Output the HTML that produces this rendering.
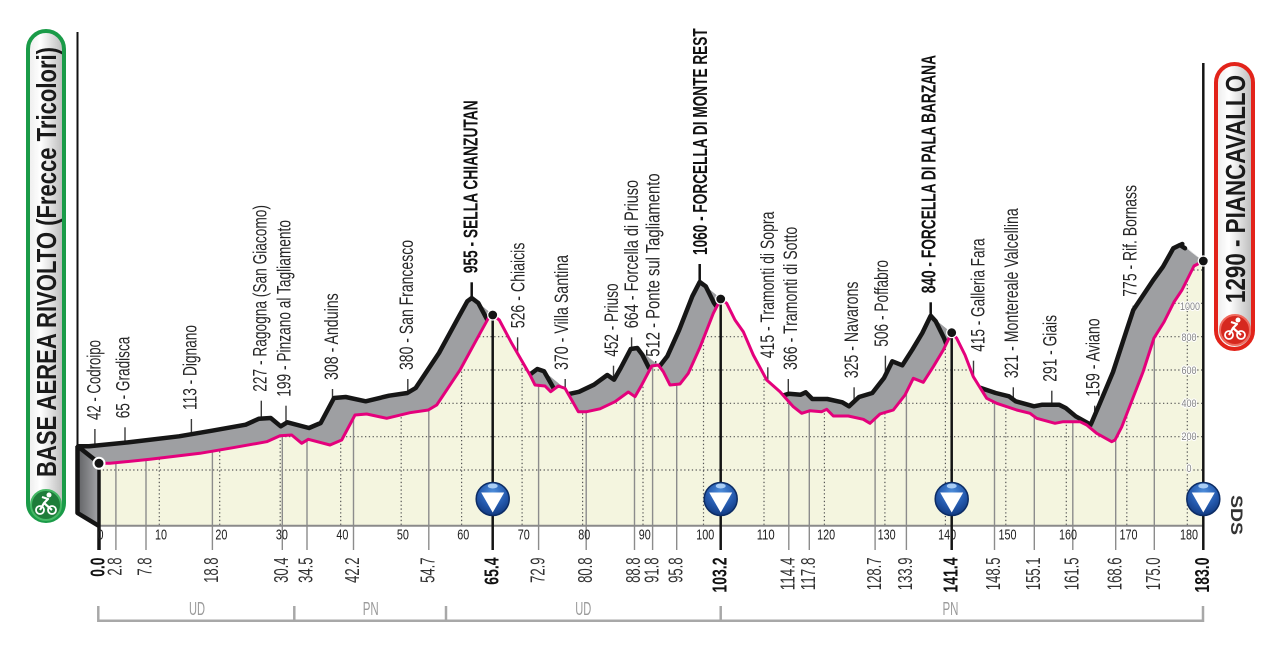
<!DOCTYPE html>
<html>
<head>
<meta charset="utf-8">
<style>
html,body{margin:0;padding:0;background:#fff;}
svg{display:block;}
text{font-family:"Liberation Sans Narrow","Liberation Sans",sans-serif;}
</style>
</head>
<body>
<svg width="1280" height="652" viewBox="0 0 1280 652" xmlns="http://www.w3.org/2000/svg">
<defs>
<path id="prof" d="M99,463.3 L110,463.3 L150,459.3 L200,453.3 L233,447.7 L266.7,441.7 L280,435.7 L291.7,435 L301.7,443.3 L308.3,439.3 L330,445 L341.7,440 L355,415 L366.7,414 L386.7,418.3 L410,412.7 L428.3,410 L436.7,405 L460,370 L480,333.3 L488.3,318.3 L492.7,315 L499.3,320 L511.7,343.3 L530,375 L535,385 L545,386 L550.7,391.7 L558.3,386 L565,388.3 L571.7,400 L578.3,411.7 L586.7,411.7 L600,408.8 L615,401.7 L628.3,392 L635,396.7 L641.7,385 L651.7,366 L658.3,365 L663.3,371.7 L670,385 L680,384 L688.3,373.3 L700,347.3 L713.3,313.3 L720.7,299 L726.7,303.3 L735,320 L743.3,331.7 L753.3,355 L766.7,380 L780,391.7 L793.3,406.7 L801.7,413.3 L810,410.7 L821.7,411.7 L826.7,409.3 L833.3,416 L848.3,416 L863.3,419.3 L870,423.3 L880,414 L893.3,410 L905,395 L913.3,378.3 L923.3,382.3 L933.3,366.7 L943.3,350 L951.7,332.7 L956.7,338.3 L965,355 L973.3,376.7 L986.7,398.3 L996.7,403.3 L1016.7,410 L1030,413.3 L1036.7,418.3 L1055,423.3 L1063.3,421.7 L1080,421.7 L1086.7,425 L1096.7,433.3 L1111.7,441.7 L1115,440 L1121.7,427 L1133.3,397 L1143,372 L1154,338 L1164,322 L1174,302 L1182,290 L1194,266 L1203.3,261"/>
<path id="area" d="M99,463.3 L110,463.3 L150,459.3 L200,453.3 L233,447.7 L266.7,441.7 L280,435.7 L291.7,435 L301.7,443.3 L308.3,439.3 L330,445 L341.7,440 L355,415 L366.7,414 L386.7,418.3 L410,412.7 L428.3,410 L436.7,405 L460,370 L480,333.3 L488.3,318.3 L492.7,315 L499.3,320 L511.7,343.3 L530,375 L535,385 L545,386 L550.7,391.7 L558.3,386 L565,388.3 L571.7,400 L578.3,411.7 L586.7,411.7 L600,408.8 L615,401.7 L628.3,392 L635,396.7 L641.7,385 L651.7,366 L658.3,365 L663.3,371.7 L670,385 L680,384 L688.3,373.3 L700,347.3 L713.3,313.3 L720.7,299 L726.7,303.3 L735,320 L743.3,331.7 L753.3,355 L766.7,380 L780,391.7 L793.3,406.7 L801.7,413.3 L810,410.7 L821.7,411.7 L826.7,409.3 L833.3,416 L848.3,416 L863.3,419.3 L870,423.3 L880,414 L893.3,410 L905,395 L913.3,378.3 L923.3,382.3 L933.3,366.7 L943.3,350 L951.7,332.7 L956.7,338.3 L965,355 L973.3,376.7 L986.7,398.3 L996.7,403.3 L1016.7,410 L1030,413.3 L1036.7,418.3 L1055,423.3 L1063.3,421.7 L1080,421.7 L1086.7,425 L1096.7,433.3 L1111.7,441.7 L1115,440 L1121.7,427 L1133.3,397 L1143,372 L1154,338 L1164,322 L1174,302 L1182,290 L1194,266 L1203.3,261 L1203.3,525.7 L99,525.7 Z"/>
<clipPath id="ca"><use href="#area"/></clipPath>
<linearGradient id="lf" x1="0" y1="0" x2="1" y2="0">
<stop offset="0" stop-color="#5f6063"/><stop offset="1" stop-color="#a5a6a9"/>
</linearGradient>
<linearGradient id="box" x1="0" y1="0" x2="1" y2="0">
<stop offset="0" stop-color="#ececec"/><stop offset="0.35" stop-color="#ffffff"/><stop offset="1" stop-color="#b9b9b9"/>
</linearGradient>
<radialGradient id="blue" cx="0.5" cy="0.3" r="0.7">
<stop offset="0" stop-color="#4f8fdc"/><stop offset="0.6" stop-color="#2459ad"/><stop offset="1" stop-color="#123a80"/>
</radialGradient>
</defs>

<rect x="0" y="0" width="1280" height="652" fill="#fff"/>

<!-- label ticks (back) -->
<g stroke="#3a3a3a" stroke-width="1.4">
<line x1="94.9" y1="429" x2="94.9" y2="446.3"/>
<line x1="125" y1="427.3" x2="125" y2="442.7"/>
<line x1="191.4" y1="419" x2="191.4" y2="434.2"/>
<line x1="261.3" y1="400.7" x2="261.3" y2="418.6"/>
<line x1="286" y1="405.7" x2="286" y2="423.1"/>
<line x1="332.5" y1="389" x2="332.5" y2="400.8"/>
<line x1="407.8" y1="379" x2="407.8" y2="392.8"/>
<line x1="517.6" y1="337.3" x2="517.6" y2="368.4"/>
<line x1="565.2" y1="379" x2="565.2" y2="394.7"/>
<line x1="613.5" y1="365.7" x2="613.5" y2="379.3"/>
<line x1="631.6" y1="337.3" x2="631.6" y2="348.9"/>
<line x1="655.7" y1="361" x2="655.7" y2="367.3"/>
<line x1="767.8" y1="367.3" x2="767.8" y2="384.6"/>
<line x1="788.3" y1="379" x2="788.3" y2="393.7"/>
<line x1="854.1" y1="387.3" x2="854.1" y2="401.6"/>
<line x1="885.4" y1="355.7" x2="885.4" y2="375.2"/>
<line x1="973.5" y1="360.7" x2="973.5" y2="385.2"/>
<line x1="1013.3" y1="387.3" x2="1013.3" y2="399.3"/>
<line x1="1051.8" y1="390.7" x2="1051.8" y2="404.7"/>
<line x1="1094.7" y1="405.7" x2="1094.7" y2="423"/>
<line x1="1133.3" y1="305.7" x2="1133.3" y2="312"/>
</g>
<g stroke="#111" stroke-width="2.5">
<line x1="471.7" y1="282.3" x2="471.7" y2="298"/>
<line x1="699.7" y1="264" x2="699.7" y2="282"/>
<line x1="930.7" y1="302.3" x2="930.7" y2="315.7"/>
</g>

<!-- grey top surface sweep -->
<g fill="#9e9fa2">
<use href="#area" transform="translate(-1,-0.81)"/>
<use href="#area" transform="translate(-2,-1.62)"/>
<use href="#area" transform="translate(-3,-2.43)"/>
<use href="#area" transform="translate(-4,-3.24)"/>
<use href="#area" transform="translate(-5,-4.05)"/>
<use href="#area" transform="translate(-6,-4.86)"/>
<use href="#area" transform="translate(-7,-5.67)"/>
<use href="#area" transform="translate(-8,-6.48)"/>
<use href="#area" transform="translate(-9,-7.29)"/>
<use href="#area" transform="translate(-10,-8.1)"/>
<use href="#area" transform="translate(-11,-8.9)"/>
<use href="#area" transform="translate(-12,-9.71)"/>
<use href="#area" transform="translate(-13,-10.52)"/>
<use href="#area" transform="translate(-14,-11.33)"/>
<use href="#area" transform="translate(-15,-12.14)"/>
<use href="#area" transform="translate(-16,-12.95)"/>
<use href="#area" transform="translate(-17,-13.76)"/>
<use href="#area" transform="translate(-18,-14.57)"/>
<use href="#area" transform="translate(-19,-15.38)"/>
<use href="#area" transform="translate(-20,-16.19)"/>
<use href="#area" transform="translate(-21,-17)"/>
</g>

<!-- left side face -->
<polygon points="77,446.5 99,463.3 99,525.7 77,513" fill="url(#lf)"/>
<path d="M78,446.5 L97,461.5 M77.5,446 L77.5,513 L99,526" fill="none" stroke="#141414" stroke-width="4.5" stroke-linejoin="round"/>
<line x1="77.5" y1="32" x2="77.5" y2="447" stroke="#111" stroke-width="2"/>

<!-- back black line -->
<use href="#prof" transform="translate(-21,-17)" fill="none" stroke="#161616" stroke-width="4.5" stroke-linejoin="round" stroke-linecap="round"/>

<!-- final climb override (wider band) -->
<path d="M1091,424 L1100,403 L1113,372 L1126.7,330 L1133.3,310 L1153.3,280 L1163,266.7 L1173.3,248.3 L1180,245 L1185,248.3 L1203.3,261 L1194,266 L1182,290 L1174,302 L1164,322 L1154,338 L1143,372 L1133.3,397 L1121.7,427 L1115,440 L1111.7,441.7 L1100,437 Z" fill="#9e9fa2"/>
<path d="M1091,424 L1100,403 L1113,372 L1126.7,330 L1133.3,310 L1153.3,280 L1163,266.7 L1173.3,248.3 L1180,245 L1185,248.3" fill="none" stroke="#161616" stroke-width="4.5" stroke-linejoin="round" stroke-linecap="round"/>

<!-- front face -->
<use href="#area" fill="#f4f5df"/>

<!-- dotted grid -->
<g clip-path="url(#ca)" stroke="#555" stroke-width="1.2" stroke-dasharray="1.3 2.5" fill="none">
<line x1="99" y1="470" x2="1203" y2="470"/>
<line x1="99" y1="436.7" x2="1203" y2="436.7"/>
<line x1="99" y1="403.3" x2="1203" y2="403.3"/>
<line x1="99" y1="370" x2="1203" y2="370"/>
<line x1="99" y1="336.7" x2="1203" y2="336.7"/>
<line x1="99" y1="303.3" x2="1203" y2="303.3"/>
<line x1="99" y1="270" x2="1203" y2="270"/>
<line x1="159.3" y1="250" x2="159.3" y2="526"/>
<line x1="219.7" y1="250" x2="219.7" y2="526"/>
<line x1="280.2" y1="250" x2="280.2" y2="526"/>
<line x1="340.7" y1="250" x2="340.7" y2="526"/>
<line x1="401.2" y1="250" x2="401.2" y2="526"/>
<line x1="461.6" y1="250" x2="461.6" y2="526"/>
<line x1="522.1" y1="250" x2="522.1" y2="526"/>
<line x1="582.6" y1="250" x2="582.6" y2="526"/>
<line x1="643" y1="250" x2="643" y2="526"/>
<line x1="703.5" y1="250" x2="703.5" y2="526"/>
<line x1="764" y1="250" x2="764" y2="526"/>
<line x1="824.4" y1="250" x2="824.4" y2="526"/>
<line x1="884.9" y1="250" x2="884.9" y2="526"/>
<line x1="945.4" y1="250" x2="945.4" y2="526"/>
<line x1="1005.8" y1="250" x2="1005.8" y2="526"/>
<line x1="1066.3" y1="250" x2="1066.3" y2="526"/>
<line x1="1126.8" y1="250" x2="1126.8" y2="526"/>
<line x1="1187.3" y1="250" x2="1187.3" y2="526"/>
</g>

<!-- waypoint front lines -->
<g stroke="#8c8c8c" stroke-width="1.4">
<line x1="115.9" y1="463.3" x2="115.9" y2="550"/>
<line x1="146" y1="459.7" x2="146" y2="550"/>
<line x1="212.4" y1="451.2" x2="212.4" y2="550"/>
<line x1="282.3" y1="435.6" x2="282.3" y2="550"/>
<line x1="307" y1="440.1" x2="307" y2="550"/>
<line x1="353.5" y1="417.8" x2="353.5" y2="550"/>
<line x1="428.8" y1="409.8" x2="428.8" y2="550"/>
<line x1="538.6" y1="385.4" x2="538.6" y2="550"/>
<line x1="586.2" y1="411.7" x2="586.2" y2="550"/>
<line x1="634.5" y1="396.3" x2="634.5" y2="550"/>
<line x1="652.6" y1="365.9" x2="652.6" y2="550"/>
<line x1="676.7" y1="384.3" x2="676.7" y2="550"/>
<line x1="788.8" y1="401.6" x2="788.8" y2="550"/>
<line x1="809.3" y1="410.7" x2="809.3" y2="550"/>
<line x1="875.1" y1="418.6" x2="875.1" y2="550"/>
<line x1="906.4" y1="392.2" x2="906.4" y2="550"/>
<line x1="994.5" y1="402.2" x2="994.5" y2="550"/>
<line x1="1034.3" y1="416.3" x2="1034.3" y2="550"/>
<line x1="1072.8" y1="421.7" x2="1072.8" y2="550"/>
<line x1="1115.7" y1="440" x2="1115.7" y2="550"/>
<line x1="1154.3" y1="338" x2="1154.3" y2="550"/>
</g>

<!-- axis baseline -->
<line x1="99" y1="525.7" x2="1203" y2="525.7" stroke="#8a8a8a" stroke-width="2"/>

<!-- pink front line -->
<use href="#prof" fill="none" stroke="#e4007c" stroke-width="3" stroke-linejoin="round"/>

<!-- summit / start / finish lines -->
<g stroke="#141414">
<line x1="492.7" y1="315" x2="492.7" y2="550" stroke-width="2.5"/>
<line x1="720.7" y1="299" x2="720.7" y2="550" stroke-width="2.5"/>
<line x1="951.7" y1="332.7" x2="951.7" y2="550" stroke-width="2.5"/>
<line x1="99" y1="463" x2="99" y2="550" stroke-width="3.5"/>
<line x1="1203.3" y1="63" x2="1203.3" y2="550" stroke-width="2.5"/>
</g>
<g fill="#141414" stroke="#fff" stroke-width="1.2">
<circle cx="492.7" cy="315" r="5"/>
<circle cx="720.7" cy="299" r="5"/>
<circle cx="951.7" cy="332.7" r="5"/>
<circle cx="1203.3" cy="261" r="5"/>
<circle cx="99" cy="463.3" r="5.5" stroke-width="2"/>
</g>

<!-- blue markers -->
<g>
<circle cx="492.7" cy="499" r="16.5" fill="url(#blue)" stroke="#0c2c64" stroke-width="1.5"/>
<polygon points="481.2,492.5 504.2,492.5 492.7,512.5" fill="#fff"/>
<ellipse cx="492.7" cy="486" rx="5" ry="2.5" fill="#a9cdf5"/>
<circle cx="720.7" cy="499" r="16.5" fill="url(#blue)" stroke="#0c2c64" stroke-width="1.5"/>
<polygon points="709.2,492.5 732.2,492.5 720.7,512.5" fill="#fff"/>
<ellipse cx="720.7" cy="486" rx="5" ry="2.5" fill="#a9cdf5"/>
<circle cx="951.7" cy="499" r="16.5" fill="url(#blue)" stroke="#0c2c64" stroke-width="1.5"/>
<polygon points="940.2,492.5 963.2,492.5 951.7,512.5" fill="#fff"/>
<ellipse cx="951.7" cy="486" rx="5" ry="2.5" fill="#a9cdf5"/>
<circle cx="1203.3" cy="499" r="16.5" fill="url(#blue)" stroke="#0c2c64" stroke-width="1.5"/>
<polygon points="1191.8,492.5 1214.8,492.5 1203.3,512.5" fill="#fff"/>
<ellipse cx="1203.3" cy="486" rx="5" ry="2.5" fill="#a9cdf5"/>
</g>

<!-- elevation scale -->
<g font-size="11" fill="#858585" text-anchor="middle" stroke="#fff" stroke-width="2.2" paint-order="stroke">
<text x="1189" y="472" textLength="5" lengthAdjust="spacingAndGlyphs">0</text>
<text x="1189" y="440" textLength="15" lengthAdjust="spacingAndGlyphs">200</text>
<text x="1189" y="407" textLength="15" lengthAdjust="spacingAndGlyphs">400</text>
<text x="1189" y="374" textLength="15" lengthAdjust="spacingAndGlyphs">600</text>
<text x="1189" y="341" textLength="15" lengthAdjust="spacingAndGlyphs">800</text>
<text x="1190" y="310" textLength="20" lengthAdjust="spacingAndGlyphs">1000</text>
</g>

<!-- km axis labels -->
<g font-size="15" fill="#222" text-anchor="middle">
<text x="100.5" y="539.5" textLength="6" lengthAdjust="spacingAndGlyphs">0</text>
<text x="161" y="539.5" textLength="12" lengthAdjust="spacingAndGlyphs">10</text>
<text x="221.4" y="539.5" textLength="12" lengthAdjust="spacingAndGlyphs">20</text>
<text x="281.9" y="539.5" textLength="12" lengthAdjust="spacingAndGlyphs">30</text>
<text x="342.4" y="539.5" textLength="12" lengthAdjust="spacingAndGlyphs">40</text>
<text x="402.9" y="539.5" textLength="12" lengthAdjust="spacingAndGlyphs">50</text>
<text x="463.3" y="539.5" textLength="12" lengthAdjust="spacingAndGlyphs">60</text>
<text x="523.8" y="539.5" textLength="12" lengthAdjust="spacingAndGlyphs">70</text>
<text x="584.3" y="539.5" textLength="12" lengthAdjust="spacingAndGlyphs">80</text>
<text x="644.7" y="539.5" textLength="12" lengthAdjust="spacingAndGlyphs">90</text>
<text x="705.2" y="539.5" textLength="18" lengthAdjust="spacingAndGlyphs">100</text>
<text x="765.7" y="539.5" textLength="18" lengthAdjust="spacingAndGlyphs">110</text>
<text x="826.1" y="539.5" textLength="18" lengthAdjust="spacingAndGlyphs">120</text>
<text x="886.6" y="539.5" textLength="18" lengthAdjust="spacingAndGlyphs">130</text>
<text x="947.1" y="539.5" textLength="18" lengthAdjust="spacingAndGlyphs">140</text>
<text x="1007.5" y="539.5" textLength="18" lengthAdjust="spacingAndGlyphs">150</text>
<text x="1068" y="539.5" textLength="18" lengthAdjust="spacingAndGlyphs">160</text>
<text x="1128.5" y="539.5" textLength="18" lengthAdjust="spacingAndGlyphs">170</text>
<text x="1189" y="539.5" textLength="18" lengthAdjust="spacingAndGlyphs">180</text>
</g>

<!-- bottom km labels -->
<g font-size="20" fill="#333" text-anchor="end">
<text transform="translate(121.6,557.5) rotate(-90)" textLength="18.1" lengthAdjust="spacingAndGlyphs">2.8</text>
<text transform="translate(151.7,557.5) rotate(-90)" textLength="18.1" lengthAdjust="spacingAndGlyphs">7.8</text>
<text transform="translate(218.1,557.5) rotate(-90)" textLength="25.4" lengthAdjust="spacingAndGlyphs">18.8</text>
<text transform="translate(288,557.5) rotate(-90)" textLength="25.4" lengthAdjust="spacingAndGlyphs">30.4</text>
<text transform="translate(312.7,557.5) rotate(-90)" textLength="25.4" lengthAdjust="spacingAndGlyphs">34.5</text>
<text transform="translate(359.2,557.5) rotate(-90)" textLength="25.4" lengthAdjust="spacingAndGlyphs">42.2</text>
<text transform="translate(434.5,557.5) rotate(-90)" textLength="25.4" lengthAdjust="spacingAndGlyphs">54.7</text>
<text transform="translate(544.3,557.5) rotate(-90)" textLength="25.4" lengthAdjust="spacingAndGlyphs">72.9</text>
<text transform="translate(591.9,557.5) rotate(-90)" textLength="25.4" lengthAdjust="spacingAndGlyphs">80.8</text>
<text transform="translate(640.2,557.5) rotate(-90)" textLength="25.4" lengthAdjust="spacingAndGlyphs">88.8</text>
<text transform="translate(658.3,557.5) rotate(-90)" textLength="25.4" lengthAdjust="spacingAndGlyphs">91.8</text>
<text transform="translate(682.4,557.5) rotate(-90)" textLength="25.4" lengthAdjust="spacingAndGlyphs">95.8</text>
<text transform="translate(794.5,557.5) rotate(-90)" textLength="32.7" lengthAdjust="spacingAndGlyphs">114.4</text>
<text transform="translate(815,557.5) rotate(-90)" textLength="32.7" lengthAdjust="spacingAndGlyphs">117.8</text>
<text transform="translate(880.8,557.5) rotate(-90)" textLength="32.7" lengthAdjust="spacingAndGlyphs">128.7</text>
<text transform="translate(912.1,557.5) rotate(-90)" textLength="32.7" lengthAdjust="spacingAndGlyphs">133.9</text>
<text transform="translate(1000.2,557.5) rotate(-90)" textLength="32.7" lengthAdjust="spacingAndGlyphs">148.5</text>
<text transform="translate(1040,557.5) rotate(-90)" textLength="32.7" lengthAdjust="spacingAndGlyphs">155.1</text>
<text transform="translate(1078.5,557.5) rotate(-90)" textLength="32.7" lengthAdjust="spacingAndGlyphs">161.5</text>
<text transform="translate(1121.4,557.5) rotate(-90)" textLength="32.7" lengthAdjust="spacingAndGlyphs">168.6</text>
<text transform="translate(1160,557.5) rotate(-90)" textLength="32.7" lengthAdjust="spacingAndGlyphs">175.0</text>
</g>
<g font-size="20" font-weight="bold" fill="#111" text-anchor="end">
<text transform="translate(104.7,557.5) rotate(-90)" textLength="19.3" lengthAdjust="spacingAndGlyphs">0.0</text>
<text transform="translate(498.4,557.5) rotate(-90)" textLength="27.2" lengthAdjust="spacingAndGlyphs">65.4</text>
<text transform="translate(726.4,557.5) rotate(-90)" textLength="35.1" lengthAdjust="spacingAndGlyphs">103.2</text>
<text transform="translate(957.4,557.5) rotate(-90)" textLength="35.1" lengthAdjust="spacingAndGlyphs">141.4</text>
<text transform="translate(1209,557.5) rotate(-90)" textLength="35.1" lengthAdjust="spacingAndGlyphs">183.0</text>
</g>

<!-- region bracket -->
<g stroke="#a8a8a8" stroke-width="2.5" fill="none">
<path d="M98.3,606 L98.3,620.7 L1203,620.7 L1203,606"/>
<line x1="294.3" y1="606" x2="294.3" y2="620.7"/>
<line x1="446" y1="606" x2="446" y2="620.7"/>
<line x1="720.7" y1="606" x2="720.7" y2="620.7"/>
</g>
<g font-size="18.5" fill="#9a9a9a" text-anchor="middle">
<text x="197" y="615" textLength="16" lengthAdjust="spacingAndGlyphs">UD</text>
<text x="370.7" y="615" textLength="16" lengthAdjust="spacingAndGlyphs">PN</text>
<text x="583.3" y="615" textLength="16" lengthAdjust="spacingAndGlyphs">UD</text>
<text x="950.5" y="615" textLength="16" lengthAdjust="spacingAndGlyphs">PN</text>
</g>

<!-- top waypoint labels -->
<g font-size="19" fill="#262626">
<text transform="translate(100.3,420) rotate(-90)" textLength="80" lengthAdjust="spacingAndGlyphs">42 - Codroipo</text>
<text transform="translate(129.6,418.3) rotate(-90)" textLength="81.6" lengthAdjust="spacingAndGlyphs">65 - Gradisca</text>
<text transform="translate(196.3,410) rotate(-90)" textLength="85" lengthAdjust="spacingAndGlyphs">113 - Dignano</text>
<text transform="translate(266.3,391.7) rotate(-90)" textLength="186.7" lengthAdjust="spacingAndGlyphs">227 - Ragogna (San Giacomo)</text>
<text transform="translate(290.3,396.7) rotate(-90)" textLength="176.7" lengthAdjust="spacingAndGlyphs">199 - Pinzano al Tagliamento</text>
<text transform="translate(338,380) rotate(-90)" textLength="86.7" lengthAdjust="spacingAndGlyphs">308 - Anduins</text>
<text transform="translate(413,370) rotate(-90)" textLength="130" lengthAdjust="spacingAndGlyphs">380 - San Francesco</text>
<text transform="translate(524.6,328.3) rotate(-90)" textLength="85.7" lengthAdjust="spacingAndGlyphs">526 - Chiaicis</text>
<text transform="translate(568,370) rotate(-90)" textLength="115" lengthAdjust="spacingAndGlyphs">370 - Villa Santina</text>
<text transform="translate(618,356.7) rotate(-90)" textLength="73.3" lengthAdjust="spacingAndGlyphs">452 - Priuso</text>
<text transform="translate(638,328.3) rotate(-90)" textLength="148.3" lengthAdjust="spacingAndGlyphs">664 - Forcella di Priuso</text>
<text transform="translate(659.6,356.7) rotate(-90)" textLength="183.3" lengthAdjust="spacingAndGlyphs">512 - Ponte sul Tagliamento</text>
<text transform="translate(773.8,358.3) rotate(-90)" textLength="146.7" lengthAdjust="spacingAndGlyphs">415 - Tramonti di Sopra</text>
<text transform="translate(797,370) rotate(-90)" textLength="143.3" lengthAdjust="spacingAndGlyphs">366 - Tramonti di Sotto</text>
<text transform="translate(858,378.3) rotate(-90)" textLength="96.7" lengthAdjust="spacingAndGlyphs">325 - Navarons</text>
<text transform="translate(888,346.7) rotate(-90)" textLength="86.7" lengthAdjust="spacingAndGlyphs">506 - Poffabro</text>
<text transform="translate(984.6,351.7) rotate(-90)" textLength="113.3" lengthAdjust="spacingAndGlyphs">415 - Galleria Fara</text>
<text transform="translate(1018,378.3) rotate(-90)" textLength="170" lengthAdjust="spacingAndGlyphs">321 - Montereale Valcellina</text>
<text transform="translate(1056.3,381.7) rotate(-90)" textLength="66.7" lengthAdjust="spacingAndGlyphs">291 - Giais</text>
<text transform="translate(1099.6,396.7) rotate(-90)" textLength="78.3" lengthAdjust="spacingAndGlyphs">159 - Aviano</text>
<text transform="translate(1136.3,296.7) rotate(-90)" textLength="111.7" lengthAdjust="spacingAndGlyphs">775 - Rif. Bornass</text>
</g>
<g font-size="20" font-weight="bold" fill="#111">
<text transform="translate(477.5,273.3) rotate(-90)" textLength="173" lengthAdjust="spacingAndGlyphs">955 - SELLA CHIANZUTAN</text>
<text transform="translate(707,255) rotate(-90)" textLength="226.7" lengthAdjust="spacingAndGlyphs">1060 - FORCELLA DI MONTE REST</text>
<text transform="translate(935.5,293.3) rotate(-90)" textLength="238.3" lengthAdjust="spacingAndGlyphs">840 - FORCELLA DI PALA BARZANA</text>
</g>

<!-- start box -->
<rect x="28" y="31" width="36" height="490" rx="18" ry="18" fill="url(#box)" stroke="#1a9b48" stroke-width="4"/>
<text transform="translate(56,477) rotate(-90)" font-size="28" font-weight="bold" fill="#1a1a1a" textLength="430" lengthAdjust="spacingAndGlyphs">BASE AEREA RIVOLTO (Frecce Tricolori)</text>
<g>
<circle cx="46" cy="505" r="15" fill="#1e7d3a" stroke="#45b865" stroke-width="2"/>
<circle cx="40" cy="510" r="4" fill="none" stroke="#fff" stroke-width="1.8"/>
<circle cx="52" cy="510" r="4" fill="none" stroke="#fff" stroke-width="1.8"/>
<path d="M40,510 L44,503 L52,510 M44,503 L48,499 L42,497" fill="none" stroke="#fff" stroke-width="2.2" stroke-linejoin="round"/>
<circle cx="49" cy="495" r="2.5" fill="#fff"/>
</g>

<!-- finish box -->
<rect x="1216" y="64" width="37" height="285" rx="18.5" ry="18.5" fill="url(#box)" stroke="#e2231a" stroke-width="4"/>
<text transform="translate(1245,303) rotate(-90)" font-size="28" font-weight="bold" fill="#1a1a1a" textLength="228" lengthAdjust="spacingAndGlyphs">1290 - PIANCAVALLO</text>
<g>
<circle cx="1235" cy="330" r="15" fill="#d6281f" stroke="#f06a5e" stroke-width="2"/>
<circle cx="1229" cy="335" r="4" fill="none" stroke="#fff" stroke-width="1.8"/>
<circle cx="1241" cy="335" r="4" fill="none" stroke="#fff" stroke-width="1.8"/>
<path d="M1229,335 L1233,328 L1241,335 M1233,328 L1237,324 L1231,322" fill="none" stroke="#fff" stroke-width="2.2" stroke-linejoin="round"/>
<circle cx="1238" cy="320" r="2.5" fill="#fff"/>
</g>

<!-- SDS logo -->
<text transform="translate(1231,515) rotate(90)" font-size="17" font-weight="bold" fill="#333" text-anchor="middle" textLength="40" lengthAdjust="spacingAndGlyphs">SDS</text>
</svg>
</body>
</html>
